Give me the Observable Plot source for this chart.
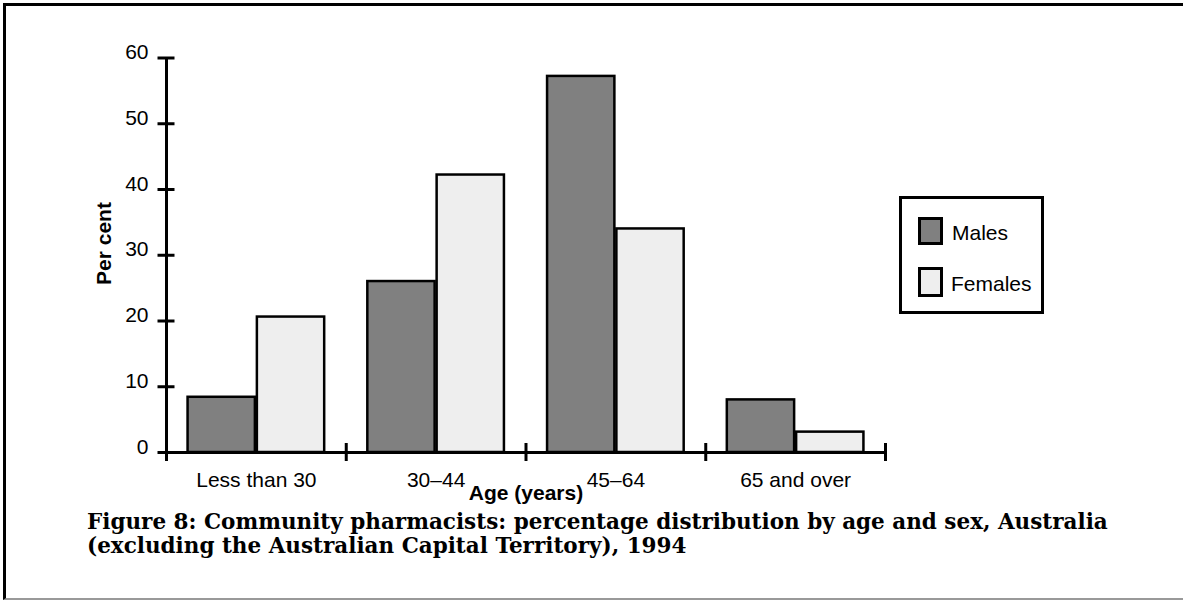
<!DOCTYPE html>
<html>
<head>
<meta charset="utf-8">
<script src="https://cdn.jsdelivr.net/npm/d3@7"></script>
<script src="https://cdn.jsdelivr.net/npm/@observablehq/plot@0.6"></script>
<style>
  html, body { margin: 0; padding: 0; background: #fff; }
  #page { position: relative; width: 1183px; height: 601px; overflow: hidden; background: #fff;
          font-family: "Liberation Sans", Arial, Helvetica, sans-serif; }
  #frame { position: absolute; left: 3px; top: 3px; width: 1180px; height: 597px; box-sizing: border-box;
           border-left: 3px solid #000; border-top: 3px solid #000; border-bottom: 2px solid #999; }
  #chart { position: absolute; left: 0; top: 0; }
  #legend { position: absolute; left: 899px; top: 196px; width: 145px; height: 118px; box-sizing: border-box;
            border: 3px solid #000; background: #fff; }
  .sw { position: absolute; width: 25px; box-sizing: border-box; border: 3px solid #000; }
  .lt { position: absolute; font-size: 21px; line-height: 21px; color: #000; white-space: nowrap; }
  #caption { position: absolute; left: 87px; top: 510px; font-family: "DejaVu Serif", "Liberation Serif", serif;
             font-weight: bold; font-size: 21.5px; line-height: 24px; color: #000; white-space: nowrap; }
</style>
</head>
<body>
<div id="page">
  <div id="frame"></div>
  <div id="chart"></div>
  <div id="legend"></div>
  <div id="caption"></div>
</div>
<script>
// ---- data ----
const ages = ["Less than 30", "30–44", "45–64", "65 and over"];
const sexes = ["Males", "Females"];
const males = [8.4, 26.0, 57.2, 8.0];
const females = [20.6, 42.2, 34.0, 3.1];
const fills = ["#808080", "#eeeeee"];
const yTicks = [0, 10, 20, 30, 40, 50, 60];
const yTitle = "Per cent";
const xTitle = "Age (years)";
const captionLines = [
  "Figure 8: Community pharmacists: percentage distribution by age and sex, Australia",
  "(excluding the Australian Capital Territory), 1994"
];

// ---- table ----
const series = [males, females];
const table = ages.flatMap((age, i) => sexes.map((sex, j) => ({age, sex, i, j, value: series[j][i]})));
const barW = 0.38;
const groupEdges = d3.range(ages.length + 1);
const groupMids = ages.map((a, i) => i + 0.5);

const barMarks = sexes.map((s, j) => Plot.rectY(table.filter(d => d.j === j), {
  x1: d => d.i + 0.5 + (d.j - 1) * barW,
  x2: d => d.i + 0.5 + d.j * barW,
  y1: 0,
  y2: "value",
  fill: "sex",
  stroke: "black",
  strokeWidth: 2.5,
  insetLeft: j === 1 ? 1 : 0,
  insetRight: j === 0 ? 1 : 0
}));

const plot = Plot.plot({
  width: 1183,
  height: 510,
  marginTop: 57.5,
  marginBottom: 58,
  marginLeft: 166,
  marginRight: 298,
  style: {fontFamily: '"Liberation Sans", Arial, Helvetica, sans-serif', fontSize: "21px", color: "black", background: "transparent", overflow: "visible"},
  x: {domain: [0, ages.length]},
  y: {domain: [0, 60]},
  color: {domain: sexes, range: fills},
  marks: [
    ...barMarks,
    Plot.ruleX([0], {stroke: "black", strokeWidth: 3}),
    Plot.ruleY([0], {stroke: "black", strokeWidth: 3}),
    // crossing ticks on y axis
    Plot.axisY(yTicks, {tickSize: 17, dx: 8.5, fill: "none", stroke: "black", strokeWidth: 3, label: null}),
    // y tick labels
    Plot.axisY(yTicks, {tickSize: 0, tickPadding: 18, dy: -5.5, fontSize: 21, fill: "black", label: null, tickFormat: d => String(d)}),
    // group separator ticks on x axis
    Plot.axisX(groupEdges, {tickSize: 18, dy: -9, fill: "none", stroke: "black", strokeWidth: 3, label: null}),
    // group labels
    Plot.axisX(groupMids, {tickSize: 0, tickPadding: 20, fontSize: 21, fill: "black", label: null, tickFormat: d => ages[Math.floor(d)]}),
    Plot.text([xTitle], {frameAnchor: "bottom", dy: 47, fontWeight: "bold", fontSize: 21, fill: "black"}),
    Plot.text([yTitle], {frameAnchor: "left", textAnchor: "middle", rotate: -90, dx: -62.7, dy: -11.75, fontWeight: "bold", fontSize: 21, fill: "black"})
  ]
});
document.getElementById("chart").appendChild(plot);

// ---- legend ----
const legend = document.getElementById("legend");
const swTops = [18, 68], swH = [28, 30], txtLeft = [50, 49], txtTop = [23, 74];
sexes.forEach((s, j) => {
  const sw = document.createElement("div");
  sw.className = "sw";
  sw.style.left = "16px";
  sw.style.top = swTops[j] + "px";
  sw.style.height = swH[j] + "px";
  sw.style.background = fills[j];
  legend.appendChild(sw);
  const t = document.createElement("div");
  t.className = "lt";
  t.style.left = txtLeft[j] + "px";
  t.style.top = txtTop[j] + "px";
  t.textContent = s;
  legend.appendChild(t);
});

// ---- caption ----
const cap = document.getElementById("caption");
captionLines.forEach((line) => {
  const d = document.createElement("div");
  d.textContent = line;
  cap.appendChild(d);
});
</script>
</body>
</html>
